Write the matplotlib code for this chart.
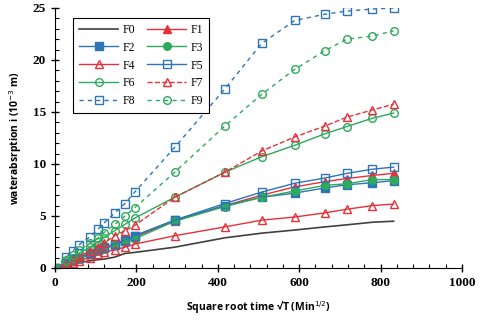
import matplotlib.pyplot as plt
from matplotlib.ticker import MultipleLocator

# square root time (Min^1/2)
x = [0, 28, 43, 58, 86, 106, 120, 147, 172, 196, 294, 417, 508, 589, 663, 717, 780, 832]

f0 = [0, 0.2, 0.35, 0.5, 0.7, 0.8, 0.85, 1.05, 1.4, 1.5, 2.0, 2.9, 3.35, 3.65, 3.95, 4.15, 4.4, 4.5]
f1 = [0, 0.45, 0.7, 0.95, 1.35, 1.7, 1.95, 2.25, 2.6, 3.0, 4.5, 6.0, 7.0, 7.8, 8.3, 8.6, 8.9, 9.1]
f2 = [0, 0.45, 0.7, 0.95, 1.35, 1.7, 1.9, 2.2, 2.55, 3.1, 4.6, 6.0, 6.8, 7.2, 7.7, 8.0, 8.2, 8.4]
f3 = [0, 0.4, 0.65, 0.9, 1.3, 1.6, 1.85, 2.2, 2.5, 2.8, 4.5, 5.9, 6.8, 7.4, 7.95, 8.1, 8.5, 8.5]
f4 = [0, 0.3, 0.5, 0.7, 1.0, 1.3, 1.5, 1.75, 2.0, 2.3, 3.1, 3.95, 4.6, 4.9, 5.3, 5.65, 6.0, 6.15]
f5 = [0, 0.5, 0.75, 1.0, 1.4, 1.8, 2.0, 2.3, 2.7, 3.1, 4.6, 6.2, 7.3, 8.15, 8.65, 9.1, 9.5, 9.7]
f6 = [0, 0.65, 1.0, 1.4, 2.0, 2.5, 2.9, 3.6, 4.2, 4.8, 6.8, 9.2, 10.7, 11.8, 12.9, 13.6, 14.4, 14.9]
f7 = [0, 0.5, 0.8, 1.1, 1.6, 2.0, 2.4, 3.1, 3.6, 4.1, 6.8, 9.2, 11.25, 12.6, 13.65, 14.5, 15.2, 15.75]
f8 = [0, 1.05, 1.6, 2.2, 3.0, 3.75, 4.3, 5.3, 6.2, 7.3, 11.6, 17.2, 21.6, 23.8, 24.4, 24.7, 24.9, 25.0]
f9 = [0, 0.8, 1.25, 1.7, 2.4, 2.9, 3.4, 4.2, 5.0, 5.8, 9.2, 13.65, 16.7, 19.1, 20.9, 22.0, 22.3, 22.8]

red = '#e8303a'
blue = '#2e75b6'
green = '#2eaa5c'

fig = plt.figure(figsize=(4.8, 3.25), dpi=100)
ax = fig.add_axes([0.1146, 0.1754, 0.8479, 0.8])

ms = 5.5
h = {}
h[0], = ax.plot(x, f0, color='#404040', lw=1.2, label='F0')
h[1], = ax.plot(x, f1, color=red, lw=1, marker='^', ms=ms, mfc=red, label='F1')
h[2], = ax.plot(x, f2, color=blue, lw=1, marker='s', ms=ms, mfc=blue, label='F2')
h[3], = ax.plot(x, f3, color=green, lw=1, marker='o', ms=ms, mfc=green, label='F3')
h[4], = ax.plot(x, f4, color=red, lw=1, marker='^', ms=ms, mfc='none', label='F4')
h[5], = ax.plot(x, f5, color=blue, lw=1, marker='s', ms=ms, mfc='none', label='F5')
h[6], = ax.plot(x, f6, color=green, lw=1, marker='o', ms=ms, mfc='none', label='F6')
h[7], = ax.plot(x, f7, color=red, lw=1, ls='--', marker='^', ms=ms, mfc='none', label='F7')
h[8], = ax.plot(x, f8, color=blue, lw=1, ls=(0, (3, 3)), marker='s', ms=ms, mfc='none', label='F8')
h[9], = ax.plot(x, f9, color=green, lw=1, ls=(0, (3, 3)), marker='o', ms=ms, mfc='none', label='F9')

ax.set_xlim(0, 1000)
ax.set_ylim(0, 25)
ax.xaxis.set_major_locator(MultipleLocator(200))
ax.xaxis.set_minor_locator(MultipleLocator(40))
ax.yaxis.set_major_locator(MultipleLocator(5))
ax.yaxis.set_minor_locator(MultipleLocator(1))
ax.spines['top'].set_visible(False)
ax.spines['right'].set_visible(False)
ax.tick_params(which='major', direction='inout', length=6, width=1)
ax.tick_params(which='minor', direction='in', length=3, width=0.8)
for lab in ax.get_xticklabels() + ax.get_yticklabels():
    lab.set_fontfamily('Liberation Serif')
    lab.set_fontweight('bold')
    lab.set_fontsize(9.5)

ax.set_xlabel('Square root time \u221aT (Min$^{1/2}$)', fontsize=7.5, fontweight='bold',
              family='Open Sans', labelpad=7)
ax.set_ylabel('waterabsrption i (10$^{-3}$ m)', fontsize=7.5, fontweight='bold',
              family='Open Sans', labelpad=6)

# row-wise legend: F0 F1 / F2 F3 / ...
order = [0, 2, 4, 6, 8, 1, 3, 5, 7, 9]
leg = ax.legend([h[i] for i in order], ['F%d' % i for i in order],
                ncol=2, loc='upper left', bbox_to_anchor=(0.03, 0.985),
                prop={'family': 'Liberation Serif', 'size': 8.5},
                fancybox=False, edgecolor='black', framealpha=1,
                handlelength=3.3, columnspacing=1.0, labelspacing=0.5,
                borderpad=0.5, handletextpad=0.4)
leg.get_frame().set_linewidth(0.8)

fig.savefig('out.png', dpi=100)
